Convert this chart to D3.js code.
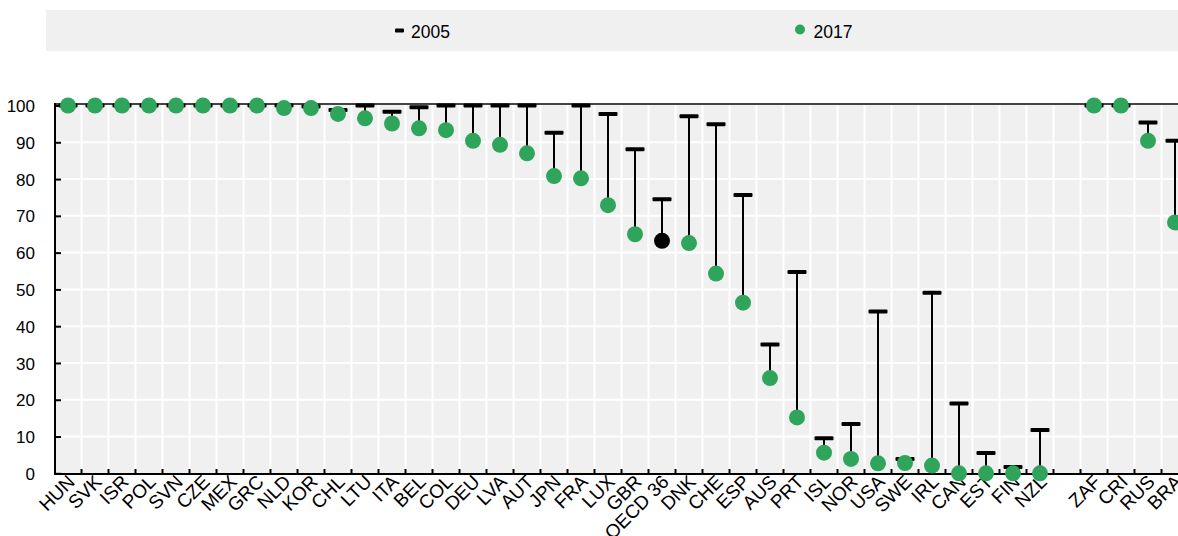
<!DOCTYPE html>
<html>
<head>
<meta charset="utf-8">
<script src="https://cdn.jsdelivr.net/npm/d3@7"></script>
<style>
  html, body { margin: 0; padding: 0; background: #fff; }
  svg { display: block; font-family: "Liberation Sans", Arial, sans-serif; }
</style>
</head>
<body>
<svg id="chart" width="1178" height="536"></svg>
<script>
// Countries in plotted order; the empty entry is a spacer between OECD and partner economies
const categories = ["HUN","SVK","ISR","POL","SVN","CZE","MEX","GRC","NLD","KOR","CHL","LTU","ITA","BEL","COL","DEU","LVA","AUT","JPN","FRA","LUX","GBR","OECD 36","DNK","CHE","ESP","AUS","PRT","ISL","NOR","USA","SWE","IRL","CAN","EST","FIN","NZL","","ZAF","CRI","RUS","BRA"];

const values2005 = [100,100,100,100,100,100,100,100,100,99.7,98.8,100,98.3,99.5,100,100,100,100,92.6,100,97.7,88.1,74.5,97.1,94.9,75.7,35.0,54.7,9.5,13.4,44.0,3.9,49.1,19.0,5.5,1.7,11.8,null,100,100,95.4,90.4];

const values2017 = [100,100,100,100,100,100,100,100,99.3,99.3,97.7,96.5,95.1,93.8,93.3,90.4,89.3,87.0,80.8,80.2,72.9,65.0,63.2,62.6,54.3,46.4,25.9,15.2,5.6,3.9,2.7,2.8,2.1,0,0,0,0,null,100,100,90.4,68.2];

const yTicks = [0,10,20,30,40,50,60,70,80,90,100];
const legendLabels = ["2005","2017"];
const highlight = "OECD 36";

const W = 1178, H = 536;
const green = "#2ea55b";
const svg = d3.select("#chart");

const plotLeft = 55, plotRight = W, plotTop = 104, plotBottom = 474;

const x = d3.scaleBand()
  .domain(d3.range(categories.length))
  .range([54.5, 54.5 + 27 * categories.length])
  .paddingInner(0).paddingOuter(0);

const y = d3.scaleLinear().domain([0, 100]).range([473.3, 105.5]);

// Legend bar
const legend = svg.append("g");
legend.append("rect").attr("x", 46).attr("y", 10).attr("width", W - 46).attr("height", 41).attr("fill", "#f0f0f0");
legend.append("rect").attr("x", 395).attr("y", 28.5).attr("width", 9).attr("height", 4).attr("rx", 1).attr("fill", "#000");
legend.append("text").attr("x", 411).attr("y", 37.5).attr("font-size", 17.5).attr("fill", "#000").text(legendLabels[0]);
legend.append("circle").attr("cx", 800).attr("cy", 29.5).attr("r", 5).attr("fill", green);
legend.append("text").attr("x", 813.5).attr("y", 37.5).attr("font-size", 17.5).attr("fill", "#000").text(legendLabels[1]);

// Plot background
svg.append("rect").attr("x", plotLeft).attr("y", plotTop).attr("width", plotRight - plotLeft).attr("height", plotBottom - plotTop).attr("fill", "#f0f0f0");

// Horizontal grid
svg.append("g").selectAll("line").data(yTicks.filter(t => t > 0 && t < 100)).join("line")
  .attr("x1", plotLeft).attr("x2", plotRight)
  .attr("y1", d => y(d)).attr("y2", d => y(d))
  .attr("stroke", "#fff").attr("stroke-width", 2);

// Vertical grid at category boundaries
const boundaries = d3.range(1, categories.length + 1).map(i => x(i - 1) + x.bandwidth());
svg.append("g").selectAll("line").data(boundaries.filter(b => b < W)).join("line")
  .attr("x1", d => d).attr("x2", d => d)
  .attr("y1", plotTop).attr("y2", plotBottom)
  .attr("stroke", "#fff").attr("stroke-width", 2);

// Top border at 100
svg.append("line").attr("x1", plotLeft).attr("x2", plotRight)
  .attr("y1", plotTop).attr("y2", plotTop)
  .attr("stroke", "#444").attr("stroke-width", 2);

// Y axis
const yAxis = d3.axisLeft(y).tickValues(yTicks).tickSize(-6).tickPadding(20).tickFormat(d3.format("d"));
const gy = svg.append("g").attr("transform", `translate(${plotLeft},0)`).call(yAxis);
gy.select(".domain").remove();
gy.selectAll(".tick line").attr("stroke", "#000").attr("stroke-width", 2);
gy.selectAll(".tick text").attr("font-size", 17).attr("fill", "#000").attr("font-family", null).attr("dy", "0.36em");
gy.append("line").attr("x1", 0).attr("x2", 0).attr("y1", plotTop - 1).attr("y2", plotBottom + 1).attr("stroke", "#000").attr("stroke-width", 2);

// X axis: ticks at category boundaries, labels rotated
const gx = svg.append("g");
gx.selectAll("line.tick").data(boundaries.filter(b => b < W)).join("line")
  .attr("class", "tick")
  .attr("x1", d => d).attr("x2", d => d)
  .attr("y1", plotBottom).attr("y2", plotBottom - 5)
  .attr("stroke", "#000").attr("stroke-width", 2);
gx.append("line").attr("x1", plotLeft - 1).attr("x2", plotRight)
  .attr("y1", plotBottom).attr("y2", plotBottom)
  .attr("stroke", "#000").attr("stroke-width", 2);
gx.selectAll("text").data(categories.map((c, i) => ({c, i})).filter(d => d.c !== "")).join("text")
  .attr("transform", d => `translate(${x(d.i) + x.bandwidth() / 2 + 8},${plotBottom + 9}) rotate(-45)`)
  .attr("text-anchor", "end")
  .attr("font-size", 19)
  .attr("fill", "#000")
  .text(d => d.c);

// Change from 2005 to 2017
const rows = categories.map((c, i) => ({c, i, a: values2005[i], b: values2017[i]})).filter(d => d.a != null && d.b != null);

svg.append("g").selectAll("line").data(rows).join("line")
  .attr("x1", d => x(d.i) + x.bandwidth() / 2).attr("x2", d => x(d.i) + x.bandwidth() / 2)
  .attr("y1", d => y(d.a)).attr("y2", d => y(d.b))
  .attr("stroke", "#000").attr("stroke-width", 2);

svg.append("g").selectAll("rect").data(rows).join("rect")
  .attr("x", d => x(d.i) + x.bandwidth() / 2 - 9.5)
  .attr("y", d => y(d.a) - 2)
  .attr("width", 19).attr("height", 4).attr("rx", 1)
  .attr("fill", "#000");

svg.append("g").selectAll("circle").data(rows).join("circle")
  .attr("cx", d => x(d.i) + x.bandwidth() / 2)
  .attr("cy", d => y(d.b))
  .attr("r", 8)
  .attr("fill", d => d.c === highlight ? "#000" : green);
</script>
</body>
</html>
